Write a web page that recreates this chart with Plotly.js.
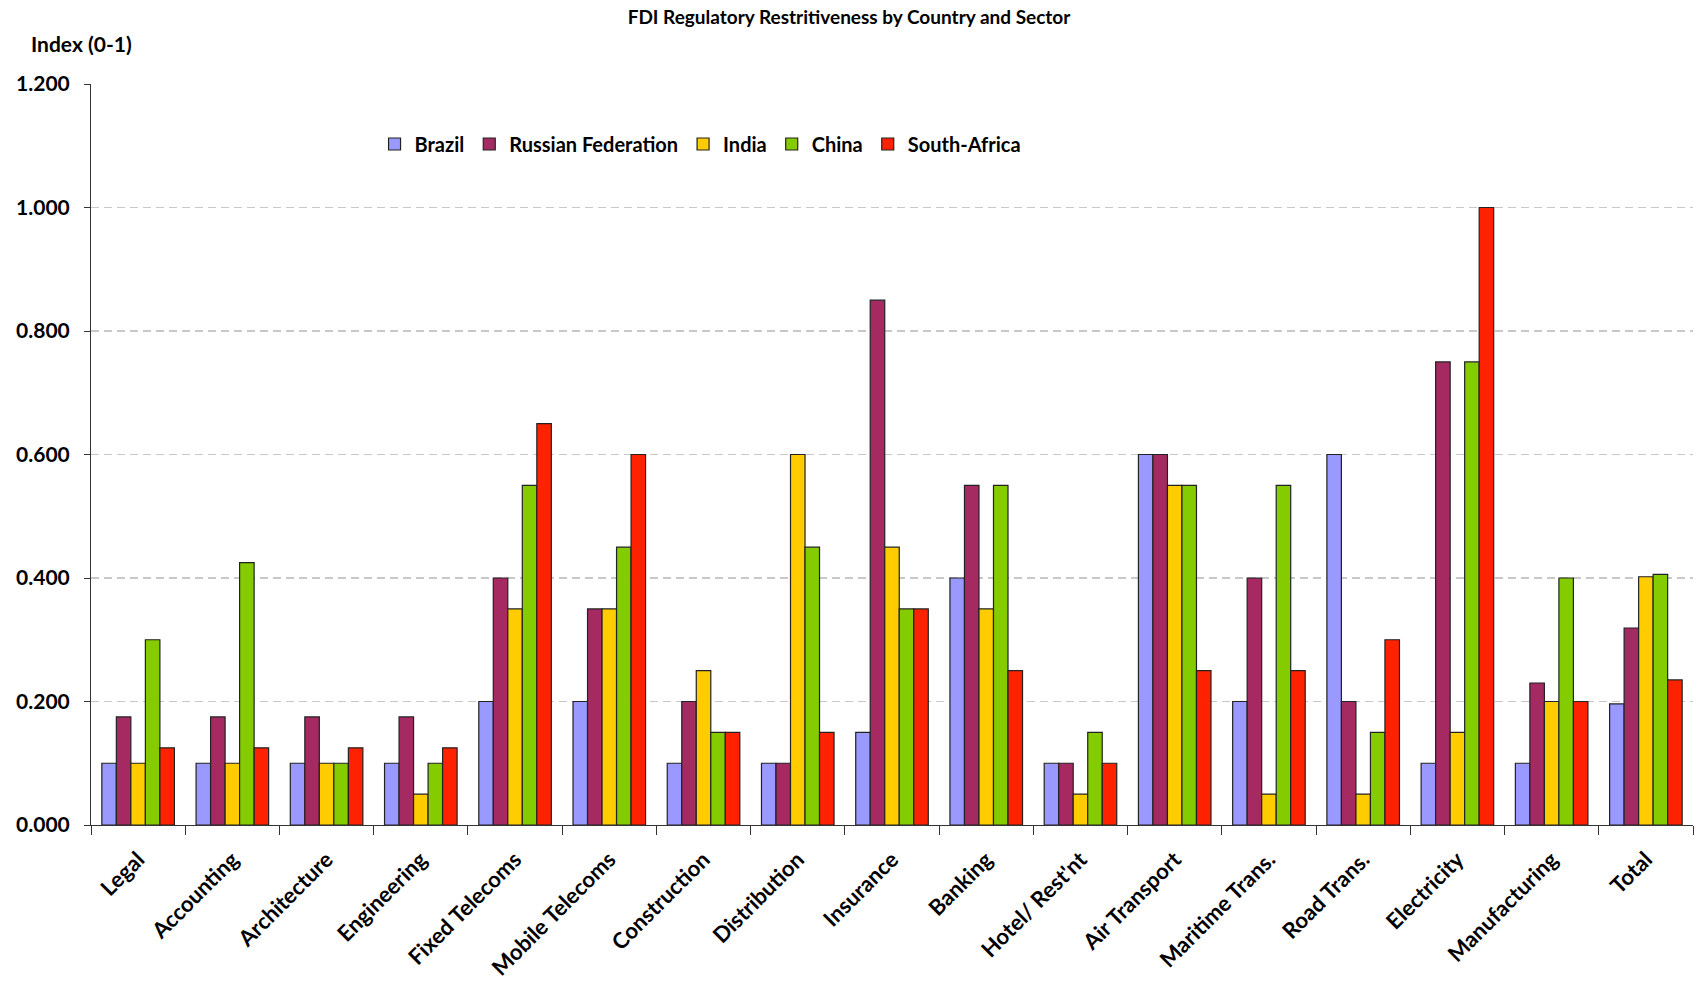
<!DOCTYPE html>
<html>
<head>
<meta charset="utf-8">
<script src="https://cdn.plot.ly/plotly-3.0.1.min.js"></script>
<style>html,body{margin:0;padding:0;background:#fff;}#chart{width:1698px;height:992px;}</style>
</head>
<body>
<div id="chart"></div>
<script>
const sectors = ["Legal","Accounting","Architecture","Engineering","Fixed Telecoms","Mobile Telecoms","Construction","Distribution","Insurance","Banking","Hotel/ Rest'nt","Air Transport","Maritime Trans.","Road Trans.","Electricity","Manufacturing","Total"];
const countries = ["Brazil","Russian Federation","India","China","South-Africa"];
const brazil = [0.100,0.100,0.100,0.100,0.200,0.200,0.100,0.100,0.150,0.400,0.100,0.600,0.200,0.600,0.100,0.100,0.196];
const russia = [0.175,0.175,0.175,0.175,0.400,0.350,0.200,0.100,0.850,0.550,0.100,0.600,0.400,0.200,0.750,0.230,0.319];
const india = [0.100,0.100,0.100,0.050,0.350,0.350,0.250,0.600,0.450,0.350,0.050,0.550,0.050,0.050,0.150,0.200,0.402];
const china = [0.300,0.425,0.100,0.100,0.550,0.450,0.150,0.450,0.350,0.550,0.150,0.550,0.550,0.150,0.750,0.400,0.406];
const southAfrica = [0.125,0.125,0.125,0.125,0.650,0.600,0.150,0.150,0.350,0.250,0.100,0.250,0.250,0.300,1.000,0.200,0.235];
const colors = ["#9999FF","#A52A62","#FFCC00","#84CC00","#FF2200"];
const yTicks = [0,0.2,0.4,0.6,0.8,1.0,1.2];

const series = [brazil, russia, india, china, southAfrica];
const FONT = "Lato, 'Open Sans', sans-serif";
const data = series.map((vals, i) => ({
  type: "bar",
  name: countries[i],
  x: sectors,
  y: vals,
  marker: {color: colors[i], line: {color: "#222", width: 1.2}}
}));

const layout = {
  width: 1698, height: 992,
  margin: {l: 91, r: 5, t: 84, b: 167},
  paper_bgcolor: "#fff", plot_bgcolor: "#fff",
  font: {family: FONT, color: "#000"},
  title: {text: "<b>FDI Regulatory Restritiveness by Country and Sector</b>", font: {size: 19, family: FONT, color: "#000"}, x: 0.5, xref: "container", xanchor: "center", y: 0.983, yref: "container", yanchor: "middle"},
  barmode: "group",
  bargap: 0.23,
  bargroupgap: 0,
  showlegend: true,
  legend: {orientation: "h", x: 0.177, xanchor: "left", y: 0.919, yanchor: "middle", font: {size: 20, family: FONT, color: "#000", weight: "bold"}, bgcolor: "rgba(0,0,0,0)", traceorder: "normal", itemwidth: 30},
  xaxis: {
    type: "category",
    showline: true, linecolor: "#333", linewidth: 1,
    ticks: "outside", ticklen: 9, tickcolor: "#333", tickson: "boundaries",
    tickangle: -45, ticklabelstandoff: 12,
    tickfont: {size: 22, family: FONT, color: "#000", weight: "bold"},
    showgrid: false, zeroline: false
  },
  yaxis: {
    range: [0, 1.2],
    tickvals: yTicks,
    tickformat: ".3f",
    showline: true, linecolor: "#333", linewidth: 1,
    ticks: "outside", ticklen: 6, tickcolor: "#333", ticklabelstandoff: 10,
    tickfont: {size: 21, family: FONT, color: "#000", weight: "bold"},
    showgrid: true, gridcolor: "#C8C8C8", griddash: "8px,5px", gridwidth: 1.3,
    zeroline: false
  },
  annotations: [{
    text: "<b>Index (0-1)</b>", xref: "paper", yref: "paper",
    x: -0.039, y: 1.055, xanchor: "left", yanchor: "middle", showarrow: false,
    font: {size: 21, family: FONT, color: "#000"}
  }]
};

Plotly.newPlot("chart", data, layout, {displayModeBar: false, staticPlot: true});
</script>
</body>
</html>
